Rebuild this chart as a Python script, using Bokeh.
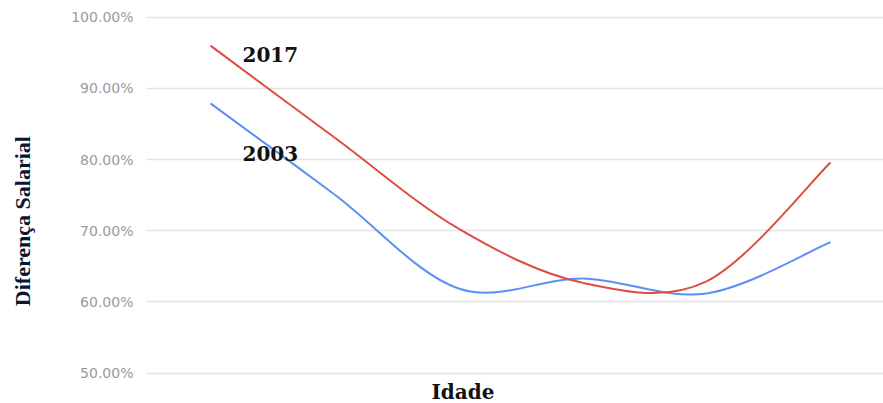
import math

from bokeh.plotting import figure
from bokeh.layouts import row
from bokeh.models import (ColumnDataSource, Label, NumeralTickFormatter,
                          FixedTicker, Range1d)
from bokeh.embed import file_html
from bokeh.resources import INLINE

# Age bands (evenly spaced positions along the horizontal axis)
faixa = [0, 1, 2, 3, 4, 5]

# Wage gap per age band
dif_2017 = [0.960, 0.831, 0.703, 0.627, 0.629, 0.796]
dif_2003 = [0.879, 0.751, 0.619, 0.633, 0.612, 0.684]

y_ticks = [0.5, 0.6, 0.7, 0.8, 0.9, 1.0]

TITLE_W = 44
TOTAL_W, TOTAL_H = 883, 403


def smooth_segments(xs, ys):
    """Catmull-Rom control points, one cubic Bezier per pair of points."""
    n = len(xs)
    cols = dict(x0=[], y0=[], x1=[], y1=[], cx0=[], cy0=[], cx1=[], cy1=[])
    for i in range(n - 1):
        xp, yp = (xs[i - 1], ys[i - 1]) if i > 0 else (xs[i], ys[i])
        xn, yn = (xs[i + 2], ys[i + 2]) if i + 2 < n else (xs[i + 1], ys[i + 1])
        cols["x0"].append(xs[i])
        cols["y0"].append(ys[i])
        cols["x1"].append(xs[i + 1])
        cols["y1"].append(ys[i + 1])
        cols["cx0"].append(xs[i] + (xs[i + 1] - xp) / 6)
        cols["cy0"].append(ys[i] + (ys[i + 1] - yp) / 6)
        cols["cx1"].append(xs[i + 1] - (xn - xs[i]) / 6)
        cols["cy1"].append(ys[i + 1] - (yn - ys[i]) / 6)
    return ColumnDataSource(cols)


# Narrow strip holding the vertical axis title
side = figure(width=TITLE_W, height=TOTAL_H, output_backend="svg",
              toolbar_location=None, x_range=Range1d(0, TITLE_W),
              y_range=Range1d(0, TOTAL_H), min_border=0)
side.axis.visible = False
side.grid.visible = False
side.outline_line_color = None
side.add_layout(Label(x=22, y=TOTAL_H - 216, text="Diferença Salarial",
                      angle=math.pi / 2, text_align="center",
                      text_baseline="middle", text_font="Liberation Serif",
                      text_font_style="bold", text_font_size="22px",
                      text_color="#0b1530"))

p = figure(width=TOTAL_W - TITLE_W, height=TOTAL_H, output_backend="svg",
           toolbar_location=None,
           x_range=Range1d(-0.516, 5.427), y_range=Range1d(0.4574, 1.0094),
           min_border_left=146 - TITLE_W, min_border_right=0,
           min_border_top=10, min_border_bottom=0)
p.outline_line_color = None
p.background_fill_color = "white"
p.border_fill_color = "white"

p.xaxis.visible = False
p.xgrid.grid_line_color = None
p.ygrid.grid_line_color = "#e4e4e4"
p.ygrid.grid_line_width = 1.5

yax = p.yaxis[0]
yax.ticker = FixedTicker(ticks=y_ticks)
yax.formatter = NumeralTickFormatter(format="0.00%")
yax.axis_line_color = None
yax.major_tick_line_color = None
yax.minor_tick_line_color = None
yax.major_label_standoff = 7
yax.major_label_text_color = "#9a9a9a"
yax.major_label_text_font = "DejaVu Sans"
yax.major_label_text_font_size = "14px"

p.bezier(x0="x0", y0="y0", x1="x1", y1="y1", cx0="cx0", cy0="cy0",
         cx1="cx1", cy1="cy1", source=smooth_segments(faixa, dif_2003),
         line_color="#5b8ff5", line_width=2)
p.bezier(x0="x0", y0="y0", x1="x1", y1="y1", cx0="cx0", cy0="cy0",
         cx1="cx1", cy1="cy1", source=smooth_segments(faixa, dif_2017),
         line_color="#dd4d41", line_width=2)

# Series names and the horizontal axis title
for txt, x, y in [("2017", 0.258, 0.9476), ("2003", 0.258, 0.8079),
                  ("Idade", 1.782, 0.4731)]:
    p.add_layout(Label(x=x, y=y, text=txt, text_font="DejaVu Serif",
                       text_font_style="bold", text_font_size="20px",
                       text_color="#111111", text_baseline="middle"))

layout = row(side, p, spacing=0)
open("out.html", "w").write(file_html(layout, INLINE))
